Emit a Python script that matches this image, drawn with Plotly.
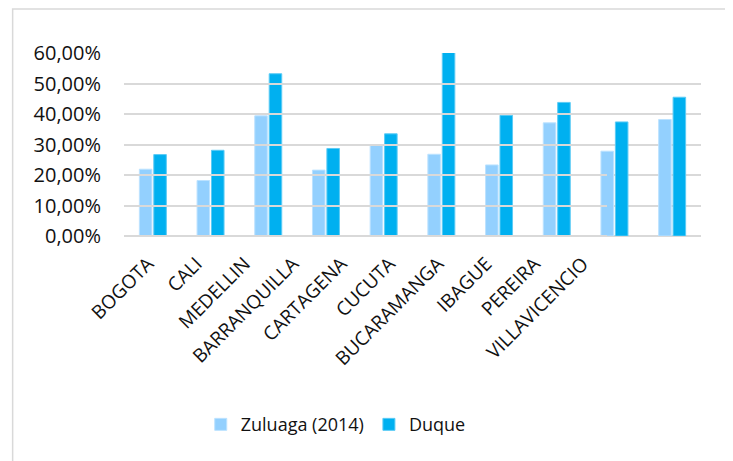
import plotly.graph_objects as go

cities = ["BOGOTA", "CALI", "MEDELLIN", "BARRANQUILLA", "CARTAGENA",
          "CUCUTA", "BUCARAMANGA", "IBAGUE", "PEREIRA", "VILLAVICENCIO"]
zuluaga = [0.219, 0.182, 0.394, 0.216, 0.299, 0.268, 0.233, 0.371, 0.278, 0.382]
duque = [0.267, 0.281, 0.532, 0.287, 0.335, 0.602, 0.396, 0.438, 0.374, 0.455]
y_ticks = [0, 0.1, 0.2, 0.3, 0.4, 0.5, 0.6]
y_labels = ["0,00%", "10,00%", "20,00%", "30,00%", "40,00%", "50,00%", "60,00%"]

font = "Open Sans"

fig = go.Figure()
fig.add_trace(go.Bar(x=cities, y=zuluaga, name="Zuluaga (2014)",
                     marker=dict(color="#93D0FE", line=dict(color="#BCE2FF", width=1)),
                     cliponaxis=False))
fig.add_trace(go.Bar(x=cities, y=duque, name="Duque",
                     marker=dict(color="#00B0F0", line=dict(color="#5CCBF5", width=1)),
                     cliponaxis=False))
# labels in the original sit on a tighter spacing than the bars: carry them on a second axis
fig.add_trace(go.Scatter(x=cities, y=[0] * len(cities), xaxis="x2", yaxis="y",
                         mode="markers", marker=dict(opacity=0), showlegend=False,
                         hoverinfo="skip"))

# page body has an 8px margin, so the figure is sized to fit the window
fig.update_layout(
    width=725, height=453,
    margin=dict(l=116, r=32, t=45, b=225),
    paper_bgcolor="white", plot_bgcolor="rgba(0,0,0,0)",
    barmode="group", bargap=0.5, bargroupgap=0.13,
    font=dict(family=font, size=18, color="#111111"),
    showlegend=True,
    legend=dict(orientation="h", x=0.133, xanchor="left", y=-1.031, yanchor="middle",
                font=dict(family=font, size=18), itemwidth=30, bgcolor="rgba(0,0,0,0)"),
    xaxis=dict(showticklabels=False, showgrid=False, showline=False, ticks="",
               range=[-0.5, len(cities) - 0.5]),
    xaxis2=dict(domain=[0, 0.837], anchor="y", type="category",
                range=[-0.5, len(cities) - 0.5],
                tickangle=-45, showgrid=False, showline=False, zeroline=False, ticks="",
                ticklabelstandoff=12, tickfont=dict(family=font, size=19)),
    yaxis=dict(range=[0, 0.6], tickvals=y_ticks, ticktext=y_labels,
               showgrid=True, gridcolor="#D9D9D9", gridwidth=2,
               zeroline=True, zerolinecolor="#D9D9D9", zerolinewidth=2,
               showline=False, ticks="", ticklabelstandoff=22,
               tickfont=dict(family=font, size=20)),
    shapes=[dict(type="rect", xref="paper", yref="paper",
                 x0=-0.193, x1=1.051, y0=-1.3, y1=1.241,
                 line=dict(color="#D9D9D9", width=1.5), layer="below")],
)

fig.write_html("out.html")
